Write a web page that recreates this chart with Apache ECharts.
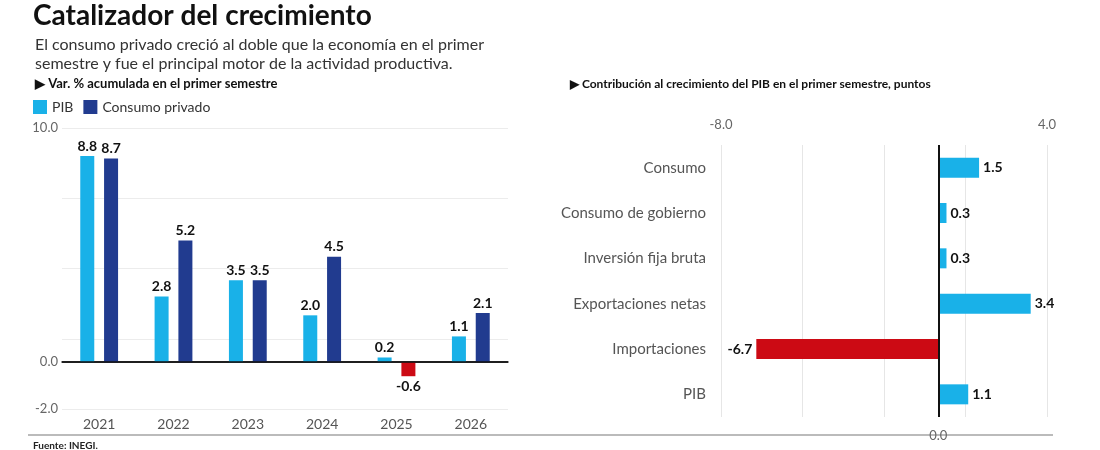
<!DOCTYPE html>
<html><head><meta charset="utf-8">
<script src="https://cdn.jsdelivr.net/npm/echarts@6/dist/echarts.min.js"></script>
<style>body{margin:0;background:#fff}#c{width:1100px;height:450px}</style>
</head><body><div id="c"></div>
<script>
const years = ['2021','2022','2023','2024','2025','2026'];
const pib = [8.8, 2.8, 3.5, 2.0, 0.2, 1.1];
const consumo = [8.7, 5.2, 3.5, 4.5, -0.6, 2.1];
const components = ['Consumo','Consumo de gobierno','Inversión fija bruta','Exportaciones netas','Importaciones','PIB'];
const contrib = [1.5, 0.3, 0.3, 3.4, -6.7, 1.1];
const leftTickLabels = {'10':'10.0','-2':'-2.0'};
const rightTickLabels = {'-8':'-8.0','4':'4.0'};

const LB='#19b1e8', DB='#213b8f', RED='#cc0a14';
const F='Lato, "Noto Sans", sans-serif';
const chart = echarts.init(document.getElementById('c'));
const lbl = {show:true, fontFamily:F, fontWeight:'bold', fontSize:14, color:'#111'};
chart.setOption({
  animation:false,
  textStyle:{fontFamily:F},
  title:[
    {text:'Catalizador del crecimiento', left:28, top:-3, textStyle:{fontSize:28, fontWeight:'bold', color:'#111', fontFamily:F}},
    {text:'El consumo privado creció al doble que la economía en el primer\nsemestre y fue el principal motor de la actividad productiva.', left:30, top:30, textStyle:{fontSize:16, fontWeight:'normal', color:'#333', lineHeight:19, fontFamily:F}},
    {text:'▶ Var. % acumulada en el primer semestre', left:30, top:72, textStyle:{fontSize:13, fontWeight:'bold', color:'#111', fontFamily:F}},
    {text:'▶ Contribución al crecimiento del PIB en el primer semestre, puntos', left:565, top:73, textStyle:{fontSize:12, fontWeight:'bold', color:'#111', fontFamily:F}},
    {text:'{b|Fuente:} INEGI.', left:28, top:436, textStyle:{fontSize:10, color:'#222', fontFamily:F, rich:{b:{fontWeight:'bold', fontSize:10}}}}
  ],
  legend:{left:28, top:95, itemWidth:14, itemHeight:14, itemGap:10, icon:'rect', textStyle:{fontSize:14, color:'#333'}, data:['PIB','Consumo privado']},
  grid:[
    {left:62, right:592, top:128, bottom:41},
    {left:721, right:53, top:145, bottom:33}
  ],
  xAxis:[
    {type:'category', gridIndex:0, data:years, axisTick:{show:false}, axisLine:{onZero:true, lineStyle:{color:'#111', width:1.5}},
     axisLabel:{show:false}},
    {type:'category', gridIndex:0, position:'bottom', data:years, axisTick:{show:false}, axisLine:{show:false}, axisLabel:{fontSize:14, color:'#555', margin:8}},
    {type:'value', gridIndex:1, position:'top', min:-8, max:4, interval:3, axisLine:{show:false}, axisTick:{show:false},
     splitLine:{lineStyle:{color:'#e6e6e6'}}, axisLabel:{fontSize:13, color:'#666', margin:14, formatter:v=>rightTickLabels[v]||''}}
  ],
  yAxis:[
    {type:'value', gridIndex:0, min:-2, max:10, interval:3, axisLine:{show:false}, axisTick:{show:false},
     splitLine:{lineStyle:{color:'#ececec'}}, axisLabel:{fontSize:13, color:'#666', margin:4, formatter:v=>leftTickLabels[v]||''}},
    {type:'category', gridIndex:1, data:components, inverse:true, axisTick:{show:false},
     axisLine:{show:false}, axisLabel:{fontSize:15, color:'#555', margin:15}}
  ],
  series:[
    {name:'PIB', type:'bar', xAxisIndex:0, yAxisIndex:0, data:pib, barWidth:14, barGap:'70%', itemStyle:{color:LB},
     label:Object.assign({position:'top', distance:3, formatter:p=>p.value.toFixed(1)}, lbl),
     markLine:{symbol:'none', silent:true, lineStyle:{color:'#111', width:1.5, type:'solid'}, data:[{yAxis:0}],
       label:{position:'start', formatter:'0.0', fontSize:13, color:'#666', distance:4}}},
    {name:'Consumo privado', type:'bar', xAxisIndex:0, yAxisIndex:0, barWidth:14, itemStyle:{color:DB},
     data:consumo.map(v=>v<0?{value:v, itemStyle:{color:RED}, label:{position:'bottom'}}:v),
     label:Object.assign({position:'top', distance:3, formatter:p=>p.value.toFixed(1)}, lbl)},
    {type:'bar', xAxisIndex:2, yAxisIndex:1, barWidth:20,
     data:contrib.map(v=>v<0?{value:v, itemStyle:{color:RED}, label:{position:'left'}}:v),
     itemStyle:{color:LB},
     label:Object.assign({position:'right', distance:4, formatter:p=>p.value.toFixed(1)}, lbl),
     markLine:{symbol:'none', silent:true, lineStyle:{color:'#111', width:2, type:'solid'}, data:[{xAxis:0}],
       label:{position:'end', formatter:'0.0', fontSize:13, color:'#666', distance:12}}}
  ],
  graphic:[
    {type:'line', shape:{x1:28, y1:435, x2:560, y2:435}, style:{stroke:'#bbb', lineWidth:2}},
    {type:'line', shape:{x1:560, y1:435, x2:1053, y2:435}, style:{stroke:'#bbb', lineWidth:2}}
  ]
});
</script></body></html>
